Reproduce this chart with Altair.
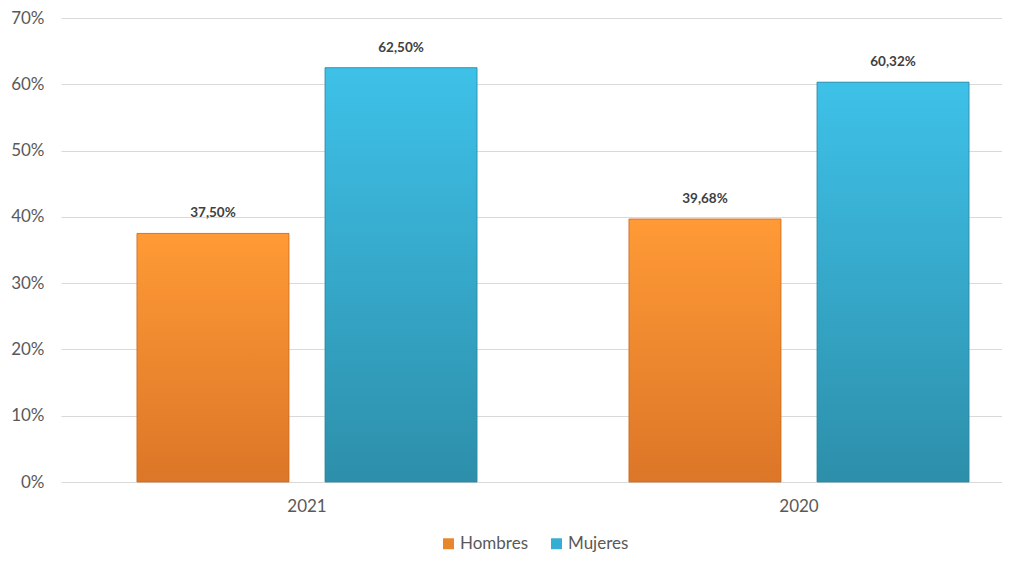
import altair as alt
import pandas as pd

years = ["2021", "2020"]
series = ["Hombres", "Mujeres"]
hombres = [37.50, 39.68]
mujeres = [62.50, 60.32]

rows = []
for i, y in enumerate(years):
    for s, vals in (("Hombres", hombres), ("Mujeres", mujeres)):
        v = vals[i]
        rows.append({"year": y, "serie": s, "value": v,
                     "label": f"{v:.2f}".replace(".", ",") + "%"})
df = pd.DataFrame(rows)

FONT = "Lato"

x = alt.X("year:N", sort=years, title=None,
          scale=alt.Scale(range=[0, 984], paddingInner=0, paddingOuter=0),
          axis=alt.Axis(labelAngle=0, labelFontSize=17, labelColor="#595959",
                        labelFont=FONT, ticks=False, domain=False, labelPadding=16))
xo = alt.XOffset("serie:N", sort=series,
                 scale=alt.Scale(paddingInner=0.1915, paddingOuter=0.404))
y = alt.Y("value:Q", title=None,
          scale=alt.Scale(domain=[0, 70], nice=False),
          axis=alt.Axis(values=[0, 10, 20, 30, 40, 50, 60, 70],
                        labelExpr="datum.value + '%'", labelFontSize=17,
                        labelColor="#595959", labelFont=FONT, ticks=False,
                        domain=False, labelPadding=17, gridColor="#d9d9d9"))

base = alt.Chart(df)

legend_bars = base.mark_bar().encode(
    x=x, xOffset=xo, y=y,
    color=alt.Color("serie:N", sort=series, title=None,
                    scale=alt.Scale(domain=series, range=["#E8862C", "#36AED3"]),
                    legend=alt.Legend(orient="none", legendX=379, legendY=517,
                                      direction="horizontal", symbolType="square",
                                      symbolSize=120, labelFontSize=17,
                                      labelColor="#595959", labelFont=FONT,
                                      labelOffset=3, columnPadding=19,
                                      symbolStrokeWidth=0)),
)

def grad(top, bottom):
    return alt.Gradient(gradient="linear", x1=0, x2=0, y1=0, y2=1,
                        stops=[alt.GradientStop(color=top, offset=0),
                               alt.GradientStop(color=bottom, offset=1)])

orange = base.transform_filter(alt.datum.serie == "Hombres").mark_bar(
    color=grad("#FF9A36", "#DC7628"), stroke="#C9691F", strokeWidth=0.8
).encode(x=x, xOffset=xo, y=y)

blue = base.transform_filter(alt.datum.serie == "Mujeres").mark_bar(
    color=grad("#3EC1E8", "#2D8FAA"), stroke="#2A86A0", strokeWidth=0.8
).encode(x=x, xOffset=xo, y=y)

labels = base.mark_text(dy=-20, fontSize=13.5, fontWeight="bold",
                        color="#404040", font=FONT).encode(
    x=x, xOffset=xo, y=y, text="label:N")

chart = alt.layer(legend_bars, orange, blue, labels).properties(
    width=939, height=464,
    autosize=alt.AutoSizeParams(type="none"),
    padding={"left": 53, "top": 10, "right": 2, "bottom": 72},
).configure_view(stroke=None)

chart.save("out.html", embed_options={"renderer": "svg", "actions": False})
